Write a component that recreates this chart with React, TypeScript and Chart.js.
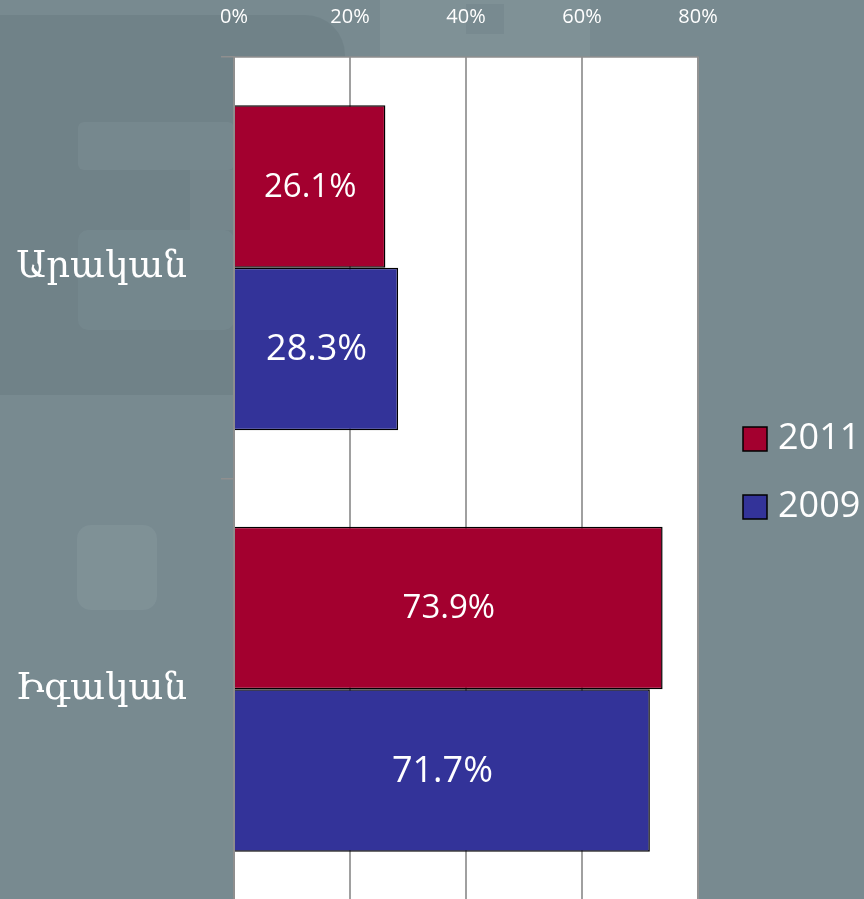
import React, { useEffect, useRef } from "react";
import { Chart, registerables } from "chart.js";

Chart.register(...registerables);

const categories = ["Արական", "Իգական"];
const seriesLabels = ["2011", "2009"];
const values2011 = [26.1, 73.9];
const values2009 = [28.3, 71.7];
const seriesColors = ["#a3002f", "#333399"];
const labelFontSizes = [33, 36];
const xTickValues = [0, 20, 40, 60, 80];

export default function App() {
  const ref = useRef<HTMLCanvasElement>(null);

  useEffect(() => {
    document.body.style.margin = "0";
    const canvas = ref.current;
    if (!canvas) return;

    const bgPlugin = {
      id: "bgPlugin",
      beforeDraw(chart: any) {
        const { ctx, width, height, chartArea: a } = chart;
        ctx.save();
        ctx.fillStyle = "#788a90";
        ctx.fillRect(0, 0, width, height);
        const rr = (x: number, y: number, w: number, h: number, r: number, color: string) => {
          ctx.fillStyle = color;
          ctx.beginPath();
          (ctx as any).roundRect(x, y, w, h, r);
          ctx.fill();
        };
        // faint decorative shapes of the backdrop
        rr(-40, 15, 385, 380, 40, "rgba(96,114,120,0.32)");
        rr(380, -10, 210, 67, 0, "rgba(140,158,164,0.35)");
        rr(466, 4, 38, 30, 0, "rgba(110,128,134,0.40)");
        rr(78, 122, 156, 48, 6, "rgba(140,158,164,0.22)");
        rr(190, 170, 44, 60, 0, "rgba(140,158,164,0.16)");
        rr(78, 230, 156, 100, 10, "rgba(140,158,164,0.18)");
        rr(77, 525, 80, 85, 14, "rgba(140,158,164,0.35)");
        // plot area
        ctx.fillStyle = "#ffffff";
        ctx.fillRect(a.left, a.top, a.right - a.left, a.bottom - a.top);
        ctx.restore();
      },
      beforeDatasetsDraw(chart: any) {
        const { ctx, chartArea: a } = chart;
        ctx.save();
        ctx.strokeStyle = "#8f8f8f";
        ctx.lineWidth = 1.5;
        ctx.strokeRect(a.left, a.top, a.right - a.left, a.bottom - a.top);
        ctx.restore();
      },
      afterDatasetsDraw(chart: any) {
        const { ctx } = chart;
        ctx.save();
        ctx.fillStyle = "#ffffff";
        ctx.textAlign = "center";
        ctx.textBaseline = "middle";
        chart.data.datasets.forEach((ds: any, di: number) => {
          const meta = chart.getDatasetMeta(di);
          ctx.font = `${labelFontSizes[di]}px "Open Sans"`;
          meta.data.forEach((el: any, i: number) => {
            const v = ds.data[i];
            const cx = (el.x + el.base) / 2;
            ctx.fillText(`${v.toFixed(1)}%`, cx, el.y + 1);
          });
        });
        // legend
        const boxX = 743;
        const boxSize = 24;
        const centers = [439, 507];
        chart.data.datasets.forEach((ds: any, di: number) => {
          const cy = centers[di];
          ctx.fillStyle = ds.backgroundColor;
          ctx.fillRect(boxX, cy - boxSize / 2, boxSize, boxSize);
          ctx.strokeStyle = "#000";
          ctx.lineWidth = 1.5;
          ctx.strokeRect(boxX, cy - boxSize / 2, boxSize, boxSize);
          ctx.fillStyle = "#ffffff";
          ctx.font = `36px "Open Sans"`;
          ctx.textAlign = "left";
          ctx.fillText(ds.label, 778, cy);
        });
        ctx.restore();
      },
    };

    const chart = new Chart(canvas, {
      type: "bar",
      data: {
        labels: categories,
        datasets: [
          {
            label: seriesLabels[0],
            data: values2011,
            backgroundColor: seriesColors[0],
            borderColor: "#000000",
            borderWidth: 1.5,
            categoryPercentage: 0.771,
            barPercentage: 1,
          },
          {
            label: seriesLabels[1],
            data: values2009,
            backgroundColor: seriesColors[1],
            borderColor: "#000000",
            borderWidth: 1.5,
            categoryPercentage: 0.771,
            barPercentage: 1,
          },
        ],
      },
      options: {
        indexAxis: "y",
        animation: false,
        responsive: false,
        maintainAspectRatio: false,
        layout: { padding: { top: 9, right: 166, bottom: 10, left: 0 } },
        plugins: {
          legend: { display: false },
          tooltip: { enabled: false },
        },
        scales: {
          x: {
            position: "top",
            min: 0,
            max: 80,
            afterBuildTicks(s: any) {
              s.ticks = xTickValues.map((v) => ({ value: v }));
            },
            ticks: {
              color: "#ffffff",
              font: { family: "Open Sans", size: 20 },
              padding: 28,
              callback: (v: any) => `${v}%`,
            },
            grid: { color: "#a0a0a0", lineWidth: 2, drawTicks: false },
            border: { display: false },
            afterFit(s: any) {
              s.height = 48;
              s.paddingLeft = 0;
              s.paddingRight = 0;
            },
          },
          y: {
            grid: {
              display: true,
              drawOnChartArea: false,
              drawTicks: true,
              tickLength: 13,
              color: "#8f8f8f",
              lineWidth: 1.5,
              offset: true,
            },
            border: { display: true, color: "#8f8f8f", width: 2 },
            ticks: {
              color: "#ffffff",
              font: { family: "DejaVu Serif", size: 37 },
              padding: 34,
            },
            afterFit(s: any) {
              s.width = 234;
              s.paddingTop = 0;
              s.paddingBottom = 0;
            },
          },
        },
      },
      plugins: [bgPlugin],
    });

    return () => chart.destroy();
  }, []);

  return (
    <div style={{ position: "absolute", left: 0, top: 0, width: 864, height: 899, overflow: "hidden" }}>
      <canvas ref={ref} width={864} height={910} style={{ display: "block", width: 864, height: 910 }} />
    </div>
  );
}
